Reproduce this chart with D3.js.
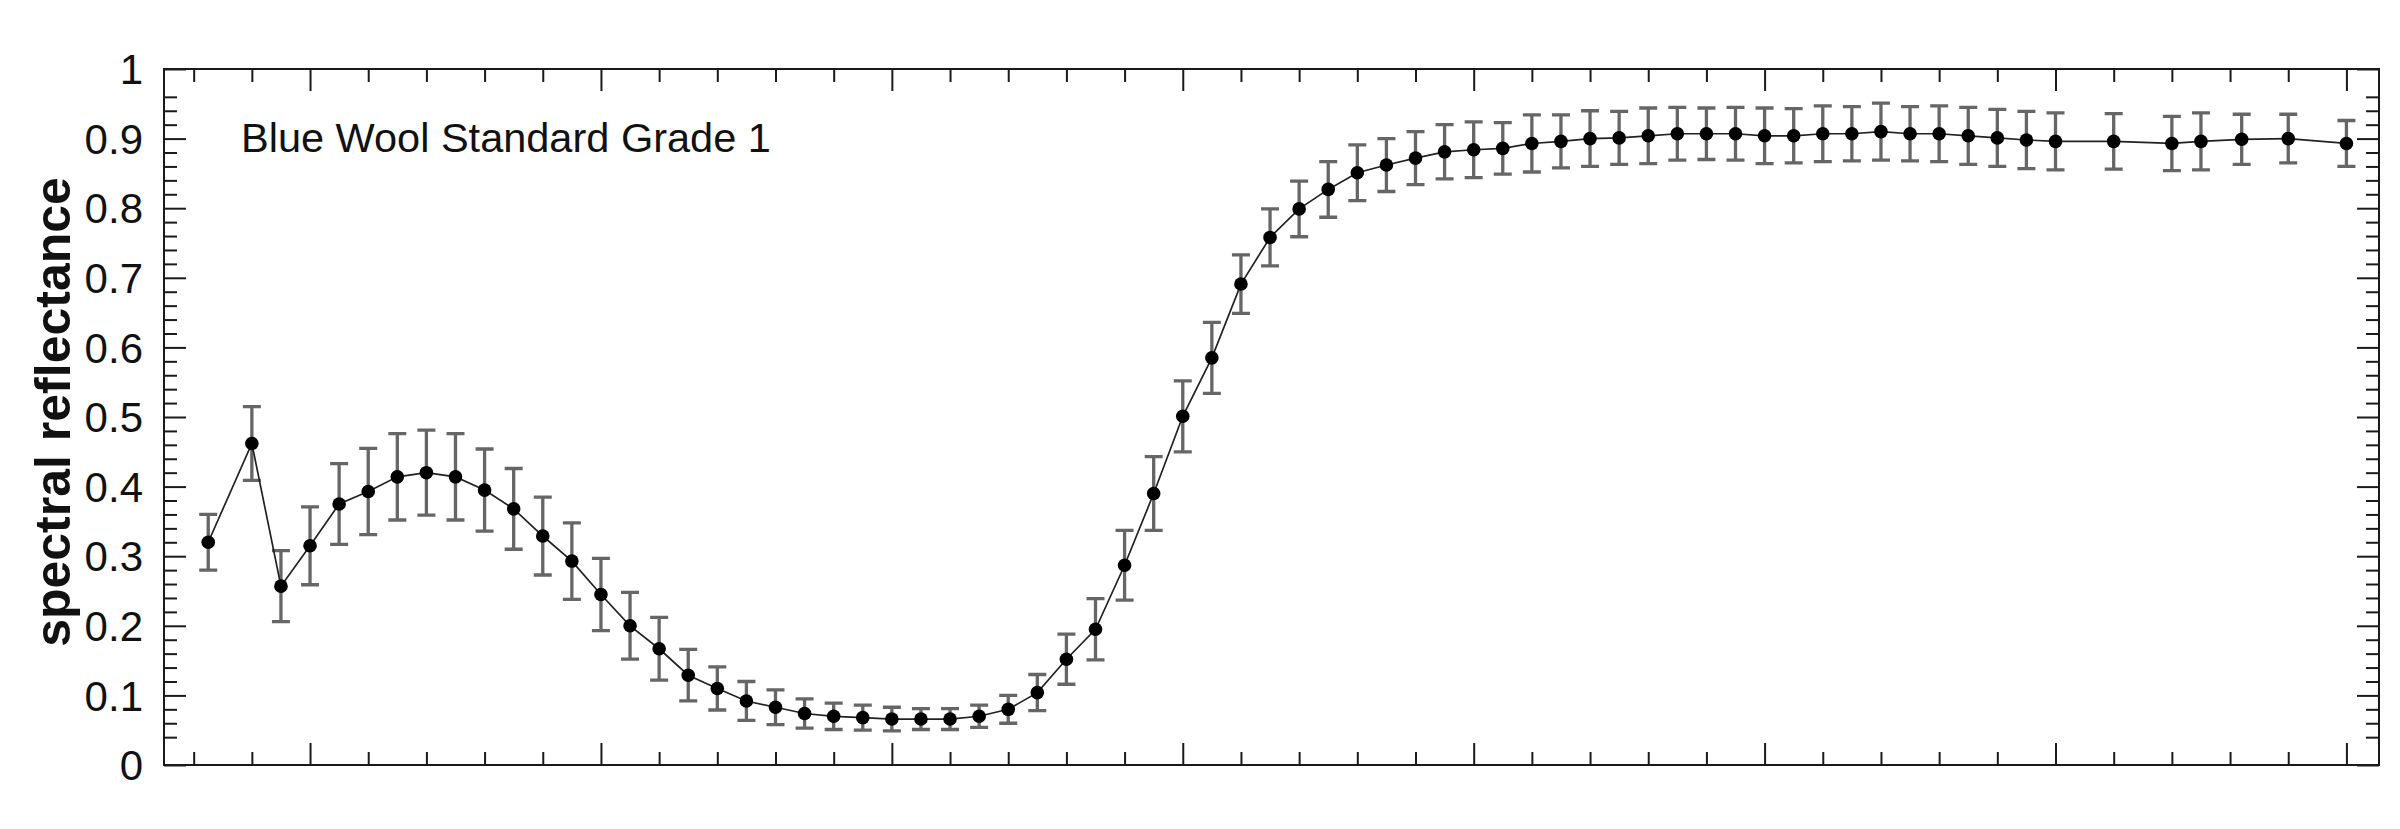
<!DOCTYPE html>
<html>
<head>
<meta charset="utf-8">
<script src="https://cdn.jsdelivr.net/npm/d3@7"></script>
<style>
  body { margin: 0; background: #fff; }
  svg { display: block; font-family: "Liberation Sans", Arial, sans-serif; }
</style>
</head>
<body>
<svg id="chart" width="2400" height="829"></svg>
<script>
// wavelength (nm) of each measurement
const wavelength = [382.5, 390, 395, 400, 405, 410, 415, 420, 425, 430, 435, 440, 445, 450, 455, 460, 465, 470, 475, 480,
  485, 490, 495, 500, 505, 510, 515, 520, 525, 530, 535, 540, 545, 550, 555, 560, 565, 570, 575, 580,
  585, 590, 595, 600, 605, 610, 615, 620, 625, 630, 635, 640, 645, 650, 655, 660, 665, 670, 675, 680,
  685, 690, 695, 700, 710, 720, 725, 732, 740, 750];

// mean spectral reflectance
const reflectance = [0.320, 0.462, 0.257, 0.315, 0.375, 0.393, 0.414, 0.420, 0.414, 0.395, 0.368, 0.329, 0.293, 0.245, 0.200, 0.167, 0.129, 0.110, 0.092, 0.083,
  0.074, 0.070, 0.068, 0.066, 0.066, 0.066, 0.070, 0.080, 0.104, 0.152, 0.195, 0.287, 0.390, 0.501, 0.585, 0.691, 0.758, 0.799, 0.827, 0.851,
  0.862, 0.872, 0.881, 0.884, 0.886, 0.893, 0.896, 0.900, 0.901, 0.904, 0.907, 0.907, 0.907, 0.904, 0.904, 0.907, 0.907, 0.910, 0.907, 0.907,
  0.904, 0.901, 0.898, 0.896, 0.896, 0.893, 0.896, 0.899, 0.900, 0.893];

// error (+/-)
const errorBar = [0.040, 0.053, 0.051, 0.056, 0.058, 0.062, 0.062, 0.061, 0.062, 0.059, 0.058, 0.056, 0.055, 0.052, 0.048, 0.045, 0.037, 0.031, 0.028, 0.025,
  0.021, 0.019, 0.018, 0.017, 0.015, 0.015, 0.016, 0.020, 0.026, 0.036, 0.044, 0.050, 0.053, 0.051, 0.051, 0.042, 0.041, 0.040, 0.040, 0.040,
  0.038, 0.038, 0.039, 0.040, 0.037, 0.041, 0.038, 0.040, 0.038, 0.040, 0.038, 0.037, 0.038, 0.040, 0.039, 0.040, 0.039, 0.041, 0.039, 0.040,
  0.041, 0.041, 0.041, 0.041, 0.040, 0.039, 0.041, 0.036, 0.035, 0.033];

const yTicks = d3.range(0, 11).map(i => i / 10);
const xMajorTicks = [400, 450, 500, 550, 600, 650, 700, 750];

const data = wavelength.map((w, i) => ({ w: w, r: reflectance[i], e: errorBar[i] }));

const svg = d3.select("#chart");
const plotL = 164, plotR = 2379, plotT = 69, plotB = 765;

const x = d3.scaleLinear().domain([374.9, 755.6]).range([plotL, plotR]);
const y = d3.scaleLinear().domain([0, 1]).range([plotB, plotT]);

const xMinor = d3.range(380, 760, 10).filter(v => v % 50 !== 0);
const yMinor = d3.range(1, 50).map(i => i / 50).filter((v, i) => (i + 1) % 5 !== 0 && i !== 0 && i !== 48);

// axes, ticks pointing inward
const axisColor = "#1a1a1a";
function styleAxis(g) {
  g.select(".domain").remove();
  g.selectAll(".tick line").attr("stroke", axisColor).attr("stroke-width", 2);
}

svg.append("g").attr("transform", `translate(0,${plotB})`)
  .call(d3.axisBottom(x).tickValues(xMajorTicks).tickSize(-22).tickFormat(""))
  .call(styleAxis);
svg.append("g").attr("transform", `translate(0,${plotB})`)
  .call(d3.axisBottom(x).tickValues(xMinor).tickSize(-13).tickFormat(""))
  .call(styleAxis);
svg.append("g").attr("transform", `translate(0,${plotT})`)
  .call(d3.axisTop(x).tickValues(xMajorTicks).tickSize(-22).tickFormat(""))
  .call(styleAxis);
svg.append("g").attr("transform", `translate(0,${plotT})`)
  .call(d3.axisTop(x).tickValues(xMinor).tickSize(-13).tickFormat(""))
  .call(styleAxis);

const yAxis = svg.append("g").attr("transform", `translate(${plotL},0)`)
  .call(d3.axisLeft(y).tickValues(yTicks).tickSize(-22).tickPadding(21).tickFormat(d3.format("~g")))
  .call(styleAxis);
yAxis.selectAll(".tick text")
  .attr("font-size", 42)
  .attr("font-family", "Liberation Sans, Arial, sans-serif")
  .attr("fill", "#111")
  .attr("dy", "0.35em");
svg.append("g").attr("transform", `translate(${plotL},0)`)
  .call(d3.axisLeft(y).tickValues(yMinor).tickSize(-13).tickFormat(""))
  .call(styleAxis);
svg.append("g").attr("transform", `translate(${plotR},0)`)
  .call(d3.axisRight(y).tickValues(yTicks).tickSize(-22).tickFormat(""))
  .call(styleAxis);
svg.append("g").attr("transform", `translate(${plotR},0)`)
  .call(d3.axisRight(y).tickValues(yMinor).tickSize(-13).tickFormat(""))
  .call(styleAxis);

// frame
svg.append("path")
  .attr("d", `M${plotL},${plotT}H${plotR}V${plotB}H${plotL}Z`)
  .attr("fill", "none")
  .attr("stroke", axisColor)
  .attr("stroke-width", 2);

// error bars
const eb = svg.append("g").attr("stroke", "#666").attr("stroke-width", 3.3).attr("fill", "none");
eb.selectAll(".err")
  .data(data)
  .enter()
  .append("path")
  .attr("class", "err")
  .attr("d", d => {
    const cx = x(d.w), y0 = y(d.r - d.e), y1 = y(d.r + d.e);
    return `M${cx},${y0}V${y1}M${cx - 9},${y1}H${cx + 9}M${cx - 9},${y0}H${cx + 9}`;
  });

// line
svg.append("path")
  .datum(data)
  .attr("fill", "none")
  .attr("stroke", "#222")
  .attr("stroke-width", 1.7)
  .attr("d", d3.line().x(d => x(d.w)).y(d => y(d.r)));

// points
svg.selectAll(".pt")
  .data(data)
  .enter()
  .append("circle")
  .attr("class", "pt")
  .attr("cx", d => x(d.w))
  .attr("cy", d => y(d.r))
  .attr("r", 6.8)
  .attr("fill", "#000");

// title inside plot
svg.append("text")
  .attr("x", 241)
  .attr("y", 152)
  .attr("font-size", 41.5)
  .attr("fill", "#111")
  .text("Blue Wool Standard Grade 1");

// y axis label
svg.append("text")
  .attr("transform", "translate(70,412) rotate(-90)")
  .attr("text-anchor", "middle")
  .attr("font-size", 50)
  .attr("font-weight", "bold")
  .attr("fill", "#111")
  .text("spectral reflectance");
</script>
</body>
</html>
